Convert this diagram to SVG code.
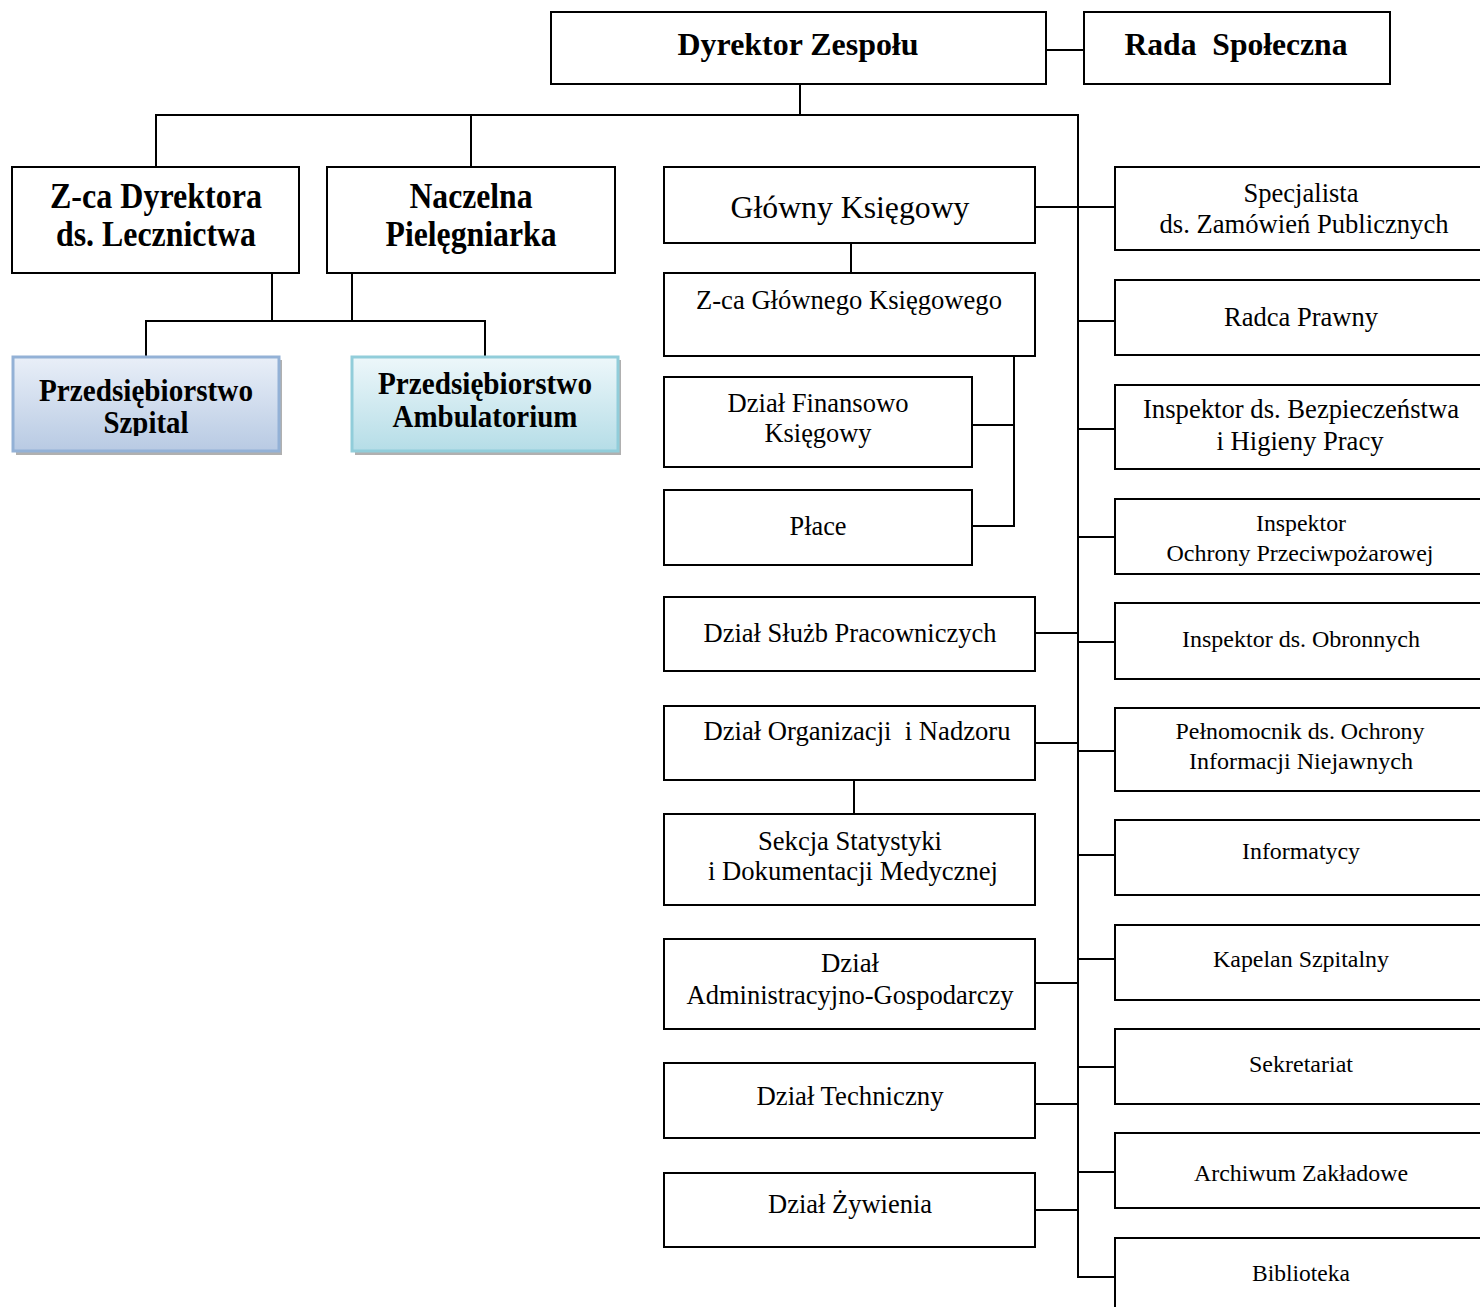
<svg xmlns="http://www.w3.org/2000/svg" width="1480" height="1307" viewBox="0 0 1480 1307">
<style>
.box{fill:#fff;stroke:#000;stroke-width:2}
.ln{fill:none;stroke:#000;stroke-width:2}
.b{font-family:"Liberation Serif","Times New Roman",serif;font-weight:bold;fill:#000}
.r{font-family:"Liberation Serif","Times New Roman",serif;fill:#000}
</style>
<defs>
<linearGradient id="gBlue" x1="0" y1="0" x2="0" y2="1">
<stop offset="0" stop-color="#e9eff8"/><stop offset="1" stop-color="#b8cae3"/>
</linearGradient>
<linearGradient id="gTeal" x1="0" y1="0" x2="0" y2="1">
<stop offset="0" stop-color="#edf7fa"/><stop offset="1" stop-color="#b5dde7"/>
</linearGradient>
<clipPath id="clipSz"><rect x="13" y="357" width="266" height="79"/></clipPath>
</defs>

<g id="connectors">
<line class="ln" x1="1046" y1="50" x2="1084" y2="50"/>
<line class="ln" x1="800" y1="84" x2="800" y2="115"/>
<line class="ln" x1="155" y1="115" x2="1079" y2="115"/>
<line class="ln" x1="156" y1="115" x2="156" y2="167"/>
<line class="ln" x1="471" y1="115" x2="471" y2="167"/>
<polyline class="ln" points="1078,115 1078,1277 1115,1277"/>
<line class="ln" x1="272" y1="273" x2="272" y2="321"/>
<line class="ln" x1="352" y1="273" x2="352" y2="321"/>
<polyline class="ln" points="146,357 146,321 485,321 485,357"/>
<line class="ln" x1="1035" y1="207" x2="1115" y2="207"/>
<line class="ln" x1="851" y1="243" x2="851" y2="273"/>
<polyline class="ln" points="972,425 1014,425"/>
<polyline class="ln" points="1014,357 1014,526 972,526"/>
<line class="ln" x1="1035" y1="633" x2="1078" y2="633"/>
<line class="ln" x1="1035" y1="743" x2="1078" y2="743"/>
<line class="ln" x1="854" y1="780" x2="854" y2="814"/>
<line class="ln" x1="1035" y1="983" x2="1078" y2="983"/>
<line class="ln" x1="1035" y1="1104" x2="1078" y2="1104"/>
<line class="ln" x1="1035" y1="1210" x2="1078" y2="1210"/>
<line class="ln" x1="1078" y1="321" x2="1115" y2="321"/>
<line class="ln" x1="1078" y1="429" x2="1115" y2="429"/>
<line class="ln" x1="1078" y1="537" x2="1115" y2="537"/>
<line class="ln" x1="1078" y1="642" x2="1115" y2="642"/>
<line class="ln" x1="1078" y1="751" x2="1115" y2="751"/>
<line class="ln" x1="1078" y1="855" x2="1115" y2="855"/>
<line class="ln" x1="1078" y1="959" x2="1115" y2="959"/>
<line class="ln" x1="1078" y1="1067" x2="1115" y2="1067"/>
<line class="ln" x1="1078" y1="1172" x2="1115" y2="1172"/>
</g>

<g id="dyrektor"><rect class="box" x="551" y="12" width="495" height="72"/>
<text class="b" x="798" y="55" font-size="32" text-anchor="middle" textLength="241" lengthAdjust="spacingAndGlyphs">Dyrektor Zespołu</text></g>
<g id="rada"><rect class="box" x="1084" y="12" width="306" height="72"/>
<text class="b" x="1236" y="55" font-size="32" text-anchor="middle" textLength="223" lengthAdjust="spacingAndGlyphs" xml:space="preserve">Rada  Społeczna</text></g>

<g id="zca-dyrektora"><rect class="box" x="12" y="167" width="287" height="106"/>
<text class="b" x="156" y="208" font-size="35" text-anchor="middle" textLength="212" lengthAdjust="spacingAndGlyphs">Z-ca Dyrektora</text>
<text class="b" x="156" y="246" font-size="35" text-anchor="middle" textLength="200" lengthAdjust="spacingAndGlyphs">ds. Lecznictwa</text></g>
<g id="naczelna"><rect class="box" x="327" y="167" width="288" height="106"/>
<text class="b" x="471" y="208" font-size="35" text-anchor="middle" textLength="123" lengthAdjust="spacingAndGlyphs">Naczelna</text>
<text class="b" x="471" y="246" font-size="35" text-anchor="middle" textLength="171" lengthAdjust="spacingAndGlyphs">Pielęgniarka</text></g>

<g id="szpital">
<rect x="16" y="360" width="266" height="95" fill="#b0b0b0"/>
<rect x="13" y="357" width="266" height="94" fill="url(#gBlue)" stroke="#93b1d6" stroke-width="3"/>
<g clip-path="url(#clipSz)">
<text class="b" x="146" y="401" font-size="31" text-anchor="middle" textLength="214" lengthAdjust="spacingAndGlyphs">Przedsiębiorstwo</text>
<text class="b" x="146" y="433" font-size="31" text-anchor="middle" textLength="85" lengthAdjust="spacingAndGlyphs">Szpital</text></g></g>
<g id="ambulatorium">
<rect x="355" y="360" width="266" height="95" fill="#b0b0b0"/>
<rect x="352" y="357" width="266" height="94" fill="url(#gTeal)" stroke="#91cdda" stroke-width="3"/>
<text class="b" x="485" y="394" font-size="31" text-anchor="middle" textLength="214" lengthAdjust="spacingAndGlyphs">Przedsiębiorstwo</text>
<text class="b" x="485" y="427" font-size="31" text-anchor="middle" textLength="185" lengthAdjust="spacingAndGlyphs">Ambulatorium</text></g>

<g id="glowny-ksiegowy"><rect class="box" x="664" y="167" width="371" height="76"/>
<text class="r" x="850" y="218" font-size="32" text-anchor="middle" textLength="239" lengthAdjust="spacingAndGlyphs">Główny Księgowy</text></g>
<g id="zca-glownego"><rect class="box" x="664" y="273" width="371" height="83"/>
<text class="r" x="849" y="309" font-size="26.5" text-anchor="middle" textLength="306" lengthAdjust="spacingAndGlyphs">Z-ca Głównego Księgowego</text></g>
<g id="finansowo"><rect class="box" x="664" y="377" width="308" height="90"/>
<text class="r" x="818" y="412" font-size="26.5" text-anchor="middle" textLength="181" lengthAdjust="spacingAndGlyphs">Dział Finansowo</text>
<text class="r" x="818" y="442" font-size="26.5" text-anchor="middle" textLength="107" lengthAdjust="spacingAndGlyphs">Księgowy</text></g>
<g id="place"><rect class="box" x="664" y="490" width="308" height="75"/>
<text class="r" x="818" y="535" font-size="26.5" text-anchor="middle" textLength="57" lengthAdjust="spacingAndGlyphs">Płace</text></g>
<g id="sluzb"><rect class="box" x="664" y="597" width="371" height="74"/>
<text class="r" x="850" y="642" font-size="26.5" text-anchor="middle" textLength="293" lengthAdjust="spacingAndGlyphs">Dział Służb Pracowniczych</text></g>
<g id="organizacji"><rect class="box" x="664" y="706" width="371" height="74"/>
<text class="r" x="857" y="740" font-size="26.5" text-anchor="middle" textLength="307" lengthAdjust="spacingAndGlyphs" xml:space="preserve">Dział Organizacji  i Nadzoru</text></g>
<g id="sekcja"><rect class="box" x="664" y="814" width="371" height="91"/>
<text class="r" x="850" y="850" font-size="26.5" text-anchor="middle" textLength="184" lengthAdjust="spacingAndGlyphs">Sekcja Statystyki</text>
<text class="r" x="853" y="880" font-size="26.5" text-anchor="middle" textLength="290" lengthAdjust="spacingAndGlyphs">i Dokumentacji Medycznej</text></g>
<g id="administracyjno"><rect class="box" x="664" y="939" width="371" height="90"/>
<text class="r" x="850" y="972" font-size="26.5" text-anchor="middle" textLength="58" lengthAdjust="spacingAndGlyphs">Dział</text>
<text class="r" x="850" y="1004" font-size="26.5" text-anchor="middle" textLength="327" lengthAdjust="spacingAndGlyphs">Administracyjno-Gospodarczy</text></g>
<g id="techniczny"><rect class="box" x="664" y="1063" width="371" height="75"/>
<text class="r" x="850" y="1105" font-size="26.5" text-anchor="middle" textLength="187" lengthAdjust="spacingAndGlyphs">Dział Techniczny</text></g>
<g id="zywienia"><rect class="box" x="664" y="1173" width="371" height="74"/>
<text class="r" x="850" y="1213" font-size="26.5" text-anchor="middle" textLength="164" lengthAdjust="spacingAndGlyphs">Dział Żywienia</text></g>

<g id="specjalista"><rect class="box" x="1115" y="167" width="400" height="83"/>
<text class="r" x="1301" y="202" font-size="26.5" text-anchor="middle" textLength="115" lengthAdjust="spacingAndGlyphs">Specjalista</text>
<text class="r" x="1304" y="233" font-size="26.5" text-anchor="middle" textLength="289" lengthAdjust="spacingAndGlyphs">ds. Zamówień Publicznych</text></g>
<g id="radca"><rect class="box" x="1115" y="280" width="400" height="75"/>
<text class="r" x="1301" y="326" font-size="26.5" text-anchor="middle" textLength="154" lengthAdjust="spacingAndGlyphs">Radca Prawny</text></g>
<g id="bhp"><rect class="box" x="1115" y="385" width="400" height="84"/>
<text class="r" x="1301" y="418" font-size="26.5" text-anchor="middle" textLength="316" lengthAdjust="spacingAndGlyphs">Inspektor ds. Bezpieczeństwa</text>
<text class="r" x="1300" y="450" font-size="26.5" text-anchor="middle" textLength="167" lengthAdjust="spacingAndGlyphs">i Higieny Pracy</text></g>
<g id="ppoz"><rect class="box" x="1115" y="499" width="400" height="75"/>
<text class="r" x="1301" y="531" font-size="23" text-anchor="middle" textLength="90" lengthAdjust="spacingAndGlyphs">Inspektor</text>
<text class="r" x="1300" y="561" font-size="23" text-anchor="middle" textLength="267" lengthAdjust="spacingAndGlyphs">Ochrony Przeciwpożarowej</text></g>
<g id="obronnych"><rect class="box" x="1115" y="603" width="400" height="76"/>
<text class="r" x="1301" y="647" font-size="23" text-anchor="middle" textLength="238" lengthAdjust="spacingAndGlyphs">Inspektor ds. Obronnych</text></g>
<g id="pelnomocnik"><rect class="box" x="1115" y="708" width="400" height="83"/>
<text class="r" x="1300" y="739" font-size="23" text-anchor="middle" textLength="249" lengthAdjust="spacingAndGlyphs">Pełnomocnik ds. Ochrony</text>
<text class="r" x="1301" y="769" font-size="23" text-anchor="middle" textLength="224" lengthAdjust="spacingAndGlyphs">Informacji Niejawnych</text></g>
<g id="informatycy"><rect class="box" x="1115" y="820" width="400" height="75"/>
<text class="r" x="1301" y="859" font-size="23" text-anchor="middle" textLength="118" lengthAdjust="spacingAndGlyphs">Informatycy</text></g>
<g id="kapelan"><rect class="box" x="1115" y="925" width="400" height="75"/>
<text class="r" x="1301" y="967" font-size="23" text-anchor="middle" textLength="176" lengthAdjust="spacingAndGlyphs">Kapelan Szpitalny</text></g>
<g id="sekretariat"><rect class="box" x="1115" y="1029" width="400" height="75"/>
<text class="r" x="1301" y="1072" font-size="23" text-anchor="middle" textLength="104" lengthAdjust="spacingAndGlyphs">Sekretariat</text></g>
<g id="archiwum"><rect class="box" x="1115" y="1133" width="400" height="75"/>
<text class="r" x="1301" y="1181" font-size="23" text-anchor="middle" textLength="214" lengthAdjust="spacingAndGlyphs">Archiwum Zakładowe</text></g>
<g id="biblioteka"><rect class="box" x="1115" y="1238" width="400" height="100"/>
<text class="r" x="1301" y="1281" font-size="23" text-anchor="middle" textLength="98" lengthAdjust="spacingAndGlyphs">Biblioteka</text></g>
</svg>
